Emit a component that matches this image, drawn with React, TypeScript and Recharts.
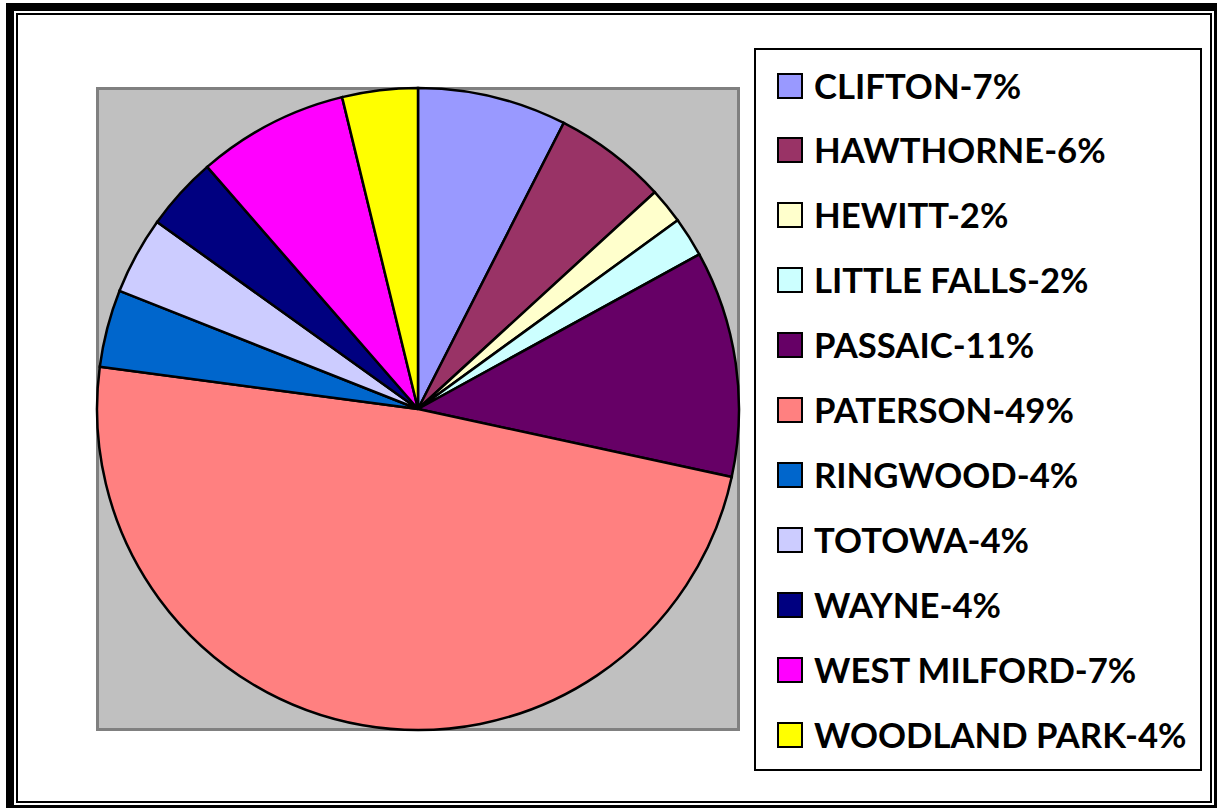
import React from "react";
import { PieChart, Pie, Cell, Legend } from "recharts";

const towns = [
  "CLIFTON",
  "HAWTHORNE",
  "HEWITT",
  "LITTLE FALLS",
  "PASSAIC",
  "PATERSON",
  "RINGWOOD",
  "TOTOWA",
  "WAYNE",
  "WEST MILFORD",
  "WOODLAND PARK",
];
const shares = [7.5, 5.7, 1.8, 2.0, 11.4, 48.7, 3.9, 3.9, 3.7, 7.6, 3.8];
const legendLabels = [
  "CLIFTON-7%",
  "HAWTHORNE-6%",
  "HEWITT-2%",
  "LITTLE FALLS-2%",
  "PASSAIC-11%",
  "PATERSON-49%",
  "RINGWOOD-4%",
  "TOTOWA-4%",
  "WAYNE-4%",
  "WEST MILFORD-7%",
  "WOODLAND PARK-4%",
];
const colors = [
  "#9999FF",
  "#993366",
  "#FFFFCC",
  "#CCFFFF",
  "#660066",
  "#FF8080",
  "#0066CC",
  "#CCCCFF",
  "#000080",
  "#FF00FF",
  "#FFFF00",
];

const data = towns.map((t, i) => ({ name: t, value: shares[i], label: legendLabels[i] }));

const LEGEND_LEFT = 754;
const LEGEND_TOP = 48;

const renderLegend = () => (
  <div
    style={{
      position: "relative",
      width: 448,
      height: 723,
      boxSizing: "border-box",
      border: "2px solid #000",
      background: "#fff",
    }}
  >
    {data.map((d, i) => {
      const cy = 35.5 + 64.95 * i;
      return (
        <div key={d.name}>
          <div
            style={{
              position: "absolute",
              left: 21,
              top: cy - 13,
              width: 26,
              height: 26,
              boxSizing: "border-box",
              border: "2px solid #000",
              background: colors[i],
            }}
          />
          <div
            style={{
              position: "absolute",
              left: 58,
              top: cy - 25,
              height: 50,
              lineHeight: "50px",
              fontFamily: "Lato, 'Open Sans', sans-serif",
              fontWeight: 700,
              fontSize: 34.7,
              color: "#000",
              whiteSpace: "nowrap",
            }}
          >
            {d.label}
          </div>
        </div>
      );
    })}
  </div>
);

export default function App() {
  return (
    <div
      style={{
        position: "absolute",
        left: 0,
        top: 0,
        width: 1217,
        height: 808,
        overflow: "hidden",
        background: "#fff",
      }}
    >
      {/* outer thick frame */}
      <div
        style={{
          position: "absolute",
          left: 6,
          top: 3,
          width: 1216,
          height: 810,
          boxSizing: "border-box",
          border: "8px solid #000",
        }}
      />
      {/* inner thin frame */}
      <div
        style={{
          position: "absolute",
          left: 16,
          top: 13,
          width: 1196,
          height: 790,
          boxSizing: "border-box",
          border: "2px solid #000",
        }}
      />
      {/* plot area */}
      <div
        style={{
          position: "absolute",
          left: 96,
          top: 87,
          width: 644,
          height: 644,
          boxSizing: "border-box",
          border: "3px solid #808080",
          background: "#C0C0C0",
        }}
      />
      <div style={{ position: "absolute", left: 0, top: 0 }}>
        <PieChart width={1217} height={808} margin={{ top: 0, right: 0, bottom: 0, left: 0 }}>
          <Pie
            data={data}
            dataKey="value"
            nameKey="name"
            cx={418}
            cy={409}
            outerRadius={321}
            innerRadius={0}
            startAngle={90}
            endAngle={-270}
            stroke="#000"
            strokeWidth={2.5}
            isAnimationActive={false}
            labelLine={false}
          >
            {data.map((d, i) => (
              <Cell key={d.name} fill={colors[i]} />
            ))}
          </Pie>
          <Legend
            content={renderLegend}
            wrapperStyle={{ position: "absolute", left: LEGEND_LEFT, top: LEGEND_TOP, width: 448, height: 723 }}
          />
        </PieChart>
      </div>
    </div>
  );
}
